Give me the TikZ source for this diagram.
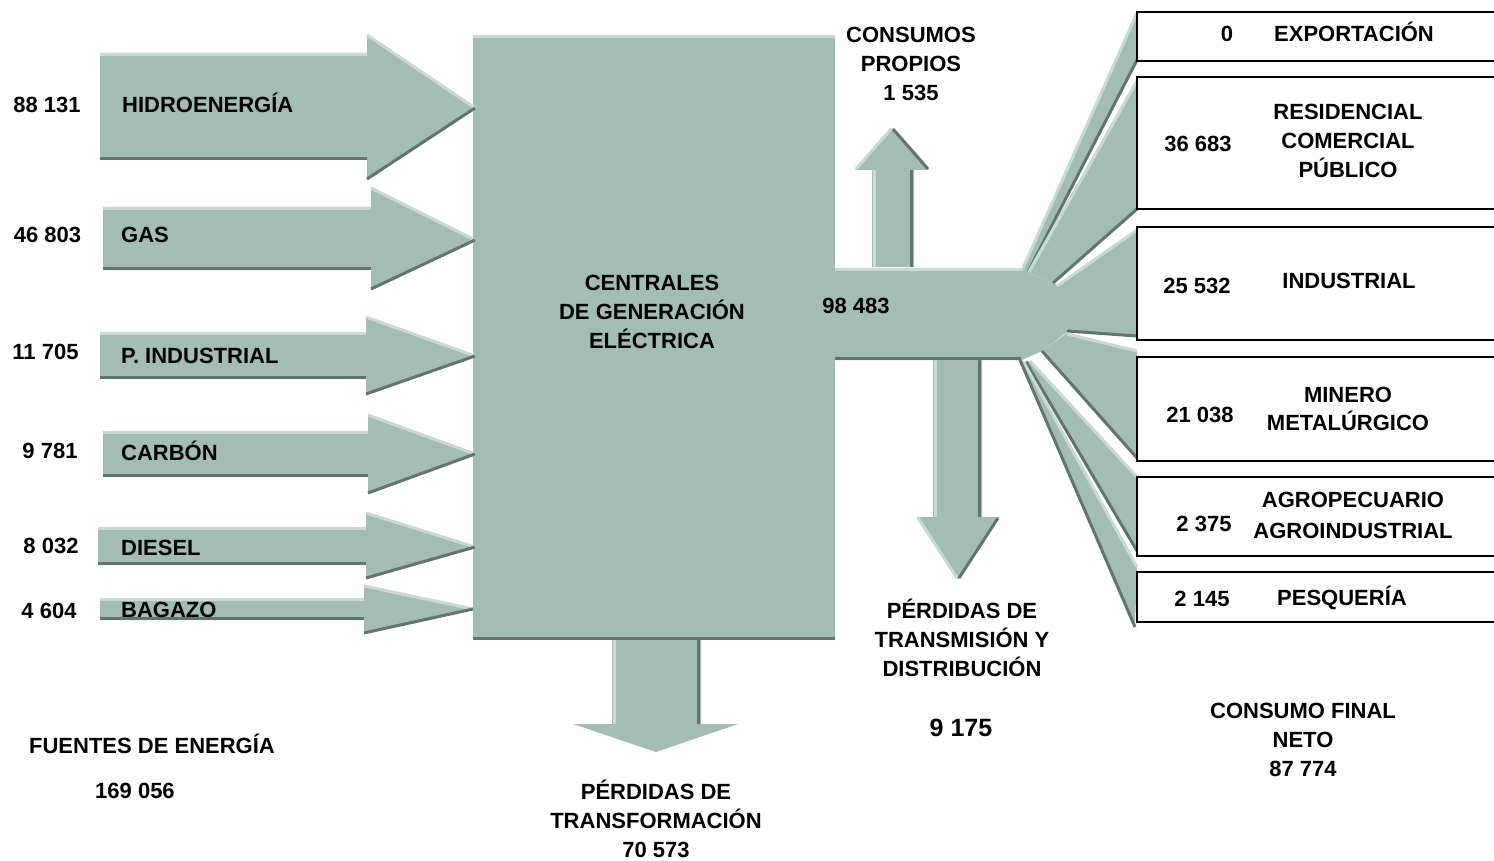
\documentclass[tikz,border=0pt]{standalone}
\usepackage{fontspec}
\setmainfont{Liberation Sans}
\definecolor{fl}{HTML}{A3BDB4}
\definecolor{lt}{HTML}{C9DAD3}
\definecolor{dk}{HTML}{62746E}
\tikzset{
  lbl/.style={font=\bfseries\fontsize{22}{29}\selectfont, inner sep=0pt, anchor=base, align=center},
  lblw/.style={lbl, anchor=base west, align=left},
  lte/.style={draw=lt, line width=3pt},
  dke/.style={draw=dk, line width=3pt},
  boxs/.style={draw=black, line width=2.4pt, fill=white},
}
\begin{document}
\begin{tikzpicture}[x=1pt,y=-1pt]
\clip (0,0) rectangle (1494,861);
\fill[white] (0,0) rectangle (1494,861);

% main box
\fill[fl] (473,35) rectangle (835,640);
\draw[lte] (473,36.5) -- (835,36.5);
\draw[dke] (473,638) -- (835,638);

% input arrows
\foreach \xa/\yt/\yb/\xh/\yht/\yhb/\xt/\ytp in {
 100/53/160/367/35/179/475/108,
 103/207/270/371/188/289/475/240,
 100/332/379/366/317/394/475/356,
 103/431/477/368/415/493/475/454,
 98/527/565/366/513/578/475/547,
 100/598/620/364/586/633/473/609}{
  \fill[fl] (\xa,\yt) -- (\xh,\yt) -- (\xh,\yht) -- (\xt,\ytp) -- (\xh,\yhb) -- (\xh,\yb) -- (\xa,\yb) -- cycle;
  \draw[lte] (\xa,\yt+1.5) -- (\xh,\yt+1.5);
  \draw[lte] (\xh,\yht) -- (\xt,\ytp);
  \draw[dke] (\xa,\yb-1.5) -- (\xh,\yb-1.5);
  \draw[dke] (\xh,\yhb) -- (\xt,\ytp);
}

% up arrow (consumos propios)
\fill[fl] (872,267) -- (872,170) -- (855,170) -- (892,128) -- (929,170) -- (914,170) -- (914,267) -- cycle;
\draw[lte] (874.5,170) -- (874.5,267);
\draw[dke] (911,170) -- (911,267);
\draw[lte] (856,169) -- (891,129);
\draw[dke] (893,129) -- (928,169);

% down arrow (transmision)
\fill[fl] (933,360) -- (933,517) -- (917,517) -- (958,580) -- (999,517) -- (982,517) -- (982,360) -- cycle;
\draw[lte] (935.5,360) -- (935.5,517);
\draw[dke] (979.5,360) -- (979.5,517);
\draw[lte] (918,518) -- (957,578);
\draw[dke] (959,578) -- (998,518);

% down arrow (transformacion)
\fill[fl] (612,640) -- (612,724) -- (573,724) -- (656,752) -- (738,724) -- (701,724) -- (701,640) -- cycle;
\draw[lte] (614.5,640) -- (614.5,724);
\draw[dke] (698.5,640) -- (698.5,724);

% hub bar
\fill[fl] (835,268) -- (1023,268) -- (1027,272) -- (1053,283) -- (1060,286) -- (1067,332) -- (1042,351) -- (1022,360) -- (835,360) -- cycle;
\draw[lte] (835,269.5) -- (1023,269.5);
\draw[dke] (835,358) -- (1021,358);

% fan wedges
\fill[fl] (1023,268) -- (1137,13) -- (1137,60) -- (1028,272) -- cycle;
\draw[lte] (1023,268) -- (1137,13);
\draw[dke] (1028,272) -- (1137,60);
\fill[fl] (1027,272) -- (1137,79) -- (1137,209) -- (1053,283) -- cycle;
\draw[lte] (1029,272) -- (1137,81);
\draw[dke] (1053,283) -- (1137,209);
\fill[fl] (1057,285) -- (1137,229) -- (1137,337) -- (1067,331) -- cycle;
\draw[lte] (1057,286) -- (1137,230);
\draw[dke] (1067,331) -- (1137,336);
\fill[fl] (1067,333) -- (1137,350) -- (1137,458) -- (1042,351) -- cycle;
\draw[lte] (1067,334) -- (1137,351);
\draw[dke] (1042,351) -- (1137,458);
\fill[fl] (1030,361) -- (1137,477) -- (1137,551) -- (1026,361) -- cycle;
\draw[lte] (1030,361) -- (1137,477);
\draw[dke] (1026,362) -- (1137,551);
\fill[fl] (1023,361) -- (1137,567) -- (1135,627) -- (1020,360) -- cycle;
\draw[lte] (1023,361) -- (1137,567);
\draw[dke] (1020,360) -- (1135,627);

% destination boxes
\draw[boxs] (1137,12) rectangle (1500,61);
\draw[boxs] (1137,77) rectangle (1500,209);
\draw[boxs] (1137,227) rectangle (1500,340);
\draw[boxs] (1137,357) rectangle (1500,461);
\draw[boxs] (1137,477) rectangle (1500,556);
\draw[boxs] (1137,572) rectangle (1500,622);

% left values and labels
\node[lbl] (v1) at (47,113) {88 131};
\node[lbl] (v2) at (47.5,243) {46 803};
\node[lbl] (v3) at (45.5,359) {11 705};
\node[lbl] (v4) at (50,458) {9 781};
\node[lbl] (v5) at (51,553) {8 032};
\node[lbl] (v6) at (49,618) {4 604};
\node[lblw] (s1) at (122,113) {HIDROENERGÍA};
\node[lblw] (s2) at (121,243) {GAS};
\node[lblw] (s3) at (121,363) {P. INDUSTRIAL};
\node[lblw] (s4) at (121,460) {CARBÓN};
\node[lblw] (s5) at (121,555) {DIESEL};
\node[lblw] (s6) at (121,617) {BAGAZO};

% multi-line nodes: base anchor = baseline of the last line
\node[lbl] (central) at (652,348) {CENTRALES\\DE GENERACIÓN\\ELÉCTRICA};
\node[lbl] (gen) at (856,313) {98 483};
\node[lbl] (cons) at (911,101) {CONSUMOS\\PROPIOS\\1 535};
\node[lbl] (td) at (962,676) {PÉRDIDAS DE\\TRANSMISIÓN Y\\DISTRIBUCIÓN};
\node[lbl, font=\bfseries\fontsize{25}{30}\selectfont] (tdv) at (961,736) {9 175};
\node[lbl] (fuentes) at (152,753) {FUENTES DE ENERGÍA};
\node[lbl] (fuentesv) at (135,798) {169 056};
\node[lbl] (transf) at (656,857) {PÉRDIDAS DE\\TRANSFORMACIÓN\\70 573};
\node[lbl] (final) at (1303,776) {CONSUMO FINAL\\NETO\\87 774};

% right box texts
\node[lbl] (d1v) at (1227,42) {0};
\node[lbl] (d1) at (1354,42) {EXPORTACIÓN};
\node[lbl] (d2v) at (1198,152) {36 683};
\node[lbl] (d2) at (1348,178) {RESIDENCIAL\\COMERCIAL\\PÚBLICO};
\node[lbl] (d3v) at (1197,293) {25 532};
\node[lbl] (d3) at (1349,288) {INDUSTRIAL};
\node[lbl] (d4v) at (1200,422) {21 038};
\node[lbl] (d4) at (1348,430) {MINERO\\[-1pt]METALÚRGICO};
\node[lbl] (d5v) at (1204,531) {2 375};
\node[lbl] (d5) at (1353,538) {AGROPECUARIO\\[2pt]AGROINDUSTRIAL};
\node[lbl] (d6v) at (1202,606) {2 145};
\node[lbl] (d6) at (1342,605) {PESQUERÍA};
\end{tikzpicture}
\end{document}
